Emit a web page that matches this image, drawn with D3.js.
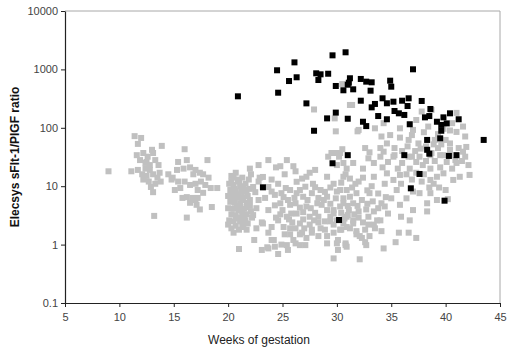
<!DOCTYPE html>
<html><head><meta charset="utf-8">
<script src="https://cdn.jsdelivr.net/npm/d3@7"></script>
<style>
html,body{margin:0;padding:0;background:#fff;}
svg{display:block;}
</style>
</head><body>
<svg id="chart" width="511" height="349"></svg>
<script>
// Tick values
const xTicks = [5, 10, 15, 20, 25, 30, 35, 40, 45];
const yTicks = [0.1, 1, 10, 100, 1000, 10000];

// Grey points (normal pregnancies): [weeks, ratio]
const greyEarly = [
 [11.4,72],[12.0,67],[11.7,53],[13.9,49],[13.0,42],[13.1,37],[11.6,34],[12.2,37],[12.6,32],[11.9,28],
 [12.5,26],[12.8,23],[13.3,28],[13.6,23],[12.4,20],[12.8,19],[11.7,19],[11.1,18],[12.1,16],[12.5,15],
 [13.1,16],[13.5,14],[13.7,17],[13.3,11],[12.9,9.7],[13.1,7.9],[13.8,12],[13.2,3.1],[9.0,18],[12.2,13],
 [12.7,12],[12.4,25],
 [16.0,43],[18.1,28],[15.4,26],[16.2,28],[16.5,21],[15.9,20],[17.0,19],[17.4,17],[17.7,16],[16.8,16],
 [15.3,19],[14.9,14],[14.8,13],[15.4,12],[16.0,12],[16.5,10.5],[17.0,11],[17.5,12],[17.9,10.5],[18.2,14],
 [18.4,9.3],[19.0,9.3],[15.1,8.6],[15.6,9.3],[15.8,6.3],[16.2,6.5],[16.7,6.3],[17.0,5.8],[17.2,6.3],[16.5,5.2],
 [17.1,4.8],[17.4,4.0],[18.5,4.4],[16.2,2.9],[14.5,16],[17.2,8.6],[17.7,7.7]
];
const greyMid = [
 [20.7,17],[20.5,14],[22.0,20],[20.9,13],[21.3,14],[20.1,11],[20.5,10.5],[21.1,10],[21.6,11],[20.2,8.6],
 [20.7,8.3],[21.2,8],[21.7,8.6],[20.0,6.8],[20.5,6.5],[20.9,6.3],[21.4,6.5],[21.8,6.8],[20.2,5.4],[20.6,5.2],
 [21.1,5.0],[21.7,5.2],[20.0,4.2],[20.5,4.1],[21.0,3.9],[21.5,4.1],[22.0,4.6],[20.3,3.3],[20.7,3.2],[21.3,3.2],
 [21.7,3.3],[20.1,2.6],[20.5,2.5],[21.1,2.5],[21.6,2.6],[22.2,2.9],[20.0,2.2],[20.7,2.1],[21.3,2.2],[21.8,2.3],
 [22.3,3.2],[22.6,4.2],[22.8,5.8],[22.5,7.9],[22.3,9.7],[22.8,12],[22.9,14],[22.1,16],[21.0,0.84],[21.0,1.8],
 [21.7,1.8],[20.5,1.6],[20.3,15],[21.5,8.2],[20.8,4.5],[20.4,7.4],[21.7,4.4],[22.0,5.8],[22.1,3.7],
 [20.3,12],[21.0,12],[21.4,9.5],[20.6,9],[20.9,7.2],[21.3,5.8],[20.4,5.9],[21.0,4.6],[21.3,3.7],[20.7,2.8],
 [21.0,2.9],[21.5,2.9],[20.3,1.9],[21.4,2.0],[22.0,9],[21.9,13],
 [24.8,22],[26.0,22],[26.2,18],[25.2,16],[24.0,13],[24.6,11],[24.0,8.1],[24.9,7.6],[25.7,8.6],[26.3,7.6],
 [24.8,5.1],[25.5,5.8],[26.2,5.1],[26.9,6.6],[27.2,14.5],[28.0,19],[27.8,11],[27.1,9.8],[28.5,8.6],[29.1,14.5],
 [29.7,11],[30.6,14.5],[30.3,8.6],[29.1,6.6],[28.2,5.1],[27.2,4.5],[26.3,3.4],[25.4,3.0],[27.5,3.0],[28.3,3.0],
 [29.1,3.9],[29.7,3.9],[30.6,5.1],[30.9,3.0],[26.6,2.3],[27.5,2.2],[28.5,1.9],[25.7,1.9],[25.2,1.5],[26.0,1.2],
 [27.2,1.3],[26.6,0.98],[29.1,1.4],[29.7,1.6],[30.3,1.8],[30.9,2.0],[30.0,1.05],[30.9,0.92],[29.7,0.58],[24.0,1.2],
 [24.3,0.92],[23.7,0.86],
 [24.3,4.7],[25.0,3.9],[25.7,4.8],[26.6,4.3],[27.3,5.8],[27.7,7.6],[28.3,6.3],[28.6,4.8],[26.3,11.9],[25.3,9.3],
 [26.8,13.5],[27.5,17],[25.9,2.4],[26.8,1.6],[27.7,1.8],[28.3,2.4],[25.1,2.0],[24.4,2.9],[23.7,3.9],[23.4,6.3],
 [24.3,7.1],[23.7,9.7],[23.2,14.4],[22.8,23],[23.7,28],[24.4,21],[25.4,28],[23.7,1.6],[23.1,2.4],[22.6,1.9],
 [22.4,1.2],[23.1,0.81],[25.5,0.81],[24.6,0.69],
 [23.2,2.3],[24.0,2.0],[24.2,1.2],[23.6,0.9],[24.9,1.0],[25.4,0.98],[26.2,1.05],[27.1,0.98],[25.7,1.5],[26.2,1.9],
 [26.6,1.5],[27.7,1.6],[28.3,1.4],[28.9,1.8],[29.1,1.05],[30.1,0.81],[30.8,0.98],[31.8,1.5],[32.1,0.56],[32.7,0.98],
 [32.3,1.3],[33.0,1.4],[32.6,1.8],[33.4,2.2],[33.7,2.6],[31.5,2.3],[30.6,2.3],[30.0,2.6],
 [24.6,2.6],[25.6,2.7],[26.9,2.7],[27.9,2.6],[28.9,2.5],[29.4,3.0],[28.0,3.5],[26.9,3.6],[25.8,3.4],[24.8,3.3],
 [25.1,6.5],[26.1,6.3],[27.6,4.2],[28.8,5.8],[29.4,5.0],[29.9,6.2],[28.9,8.0],[28.0,9.6],[26.6,8.6],[29.4,9.5],
 [27.0,1.9],[29.4,2.5]
];
const greyLate = [
 [30.3,37],[31.5,25],[32.4,20],[30.8,16],[32.4,14],[31.7,11],[30.9,8.6],[30.0,8.1],[30.6,6.2],[31.2,6.6],
 [31.8,7.6],[32.3,5.8],[31.5,5.1],[30.3,4.5],[31.1,3.9],[32.0,3.7],[29.7,3.4],[30.7,2.8],[31.5,2.6],[31.2,1.9],
 [30.4,1.8],[29.7,2.2],[31.8,1.7],[30.1,1.2],[30.8,1.05],[32.6,1.1],[32.1,1.4],[33.0,7.6],[32.9,2.2],[33.5,1.9],
 [34.1,1.7],[34.3,0.86],[35.4,1.1],[33.4,3.7],[34.0,2.6],[34.4,4.5],[34.7,3.4],[34.1,5.1],[35.0,6.2],[35.8,4.8],
 [35.5,8.6],[35.9,11],[36.4,6.2],[35.9,3.0],[36.7,2.6],[36.6,1.6],[35.7,1.6],[37.3,1.3],[37.0,3.9],[38.3,5.1],
 [38.3,3.7],[37.6,7.6],[38.6,7.6],[37.0,8.1],[34.4,11],[33.4,14.5],[34.6,16.6],[35.2,12.8],[35.8,15.6],[36.7,20],
 [36.0,25],[36.9,32],[35.3,34],[34.0,32],[34.3,39],[34.7,26],[37.3,26],[37.9,23],[38.6,20],[37.8,12],
 [38.6,12.8],[39.2,14.5],[38.9,11],[39.8,16.6],[40.6,20],[39.5,21],[40.1,26],[41.0,25],[42.1,23],[42.2,15.6],
 [41.3,14.5],[40.7,12.8],[40.2,6.0],[39.5,34],[38.6,34],[37.6,32],[41.6,39],
 [29.2,32],[30.0,37],[30.6,25],[30.0,23],[30.9,20],
 [30.5,560],[27.9,206],[31.2,246],[29.8,145],[29.9,87],[31.9,87],[29.5,37],[30.5,43],[30.2,32],
 [31.4,246],[32.0,92],[33.5,98],[34.3,120],[35.8,98],[34.9,75],[34.1,71],[34.6,54],[34.0,45],[35.3,45],
 [35.2,32],[37.0,92],[36.6,62],[37.3,136],[37.8,190],[38.7,202],[38.4,105],[37.5,54],[39.0,62],[40.0,62],
 [40.4,54],[41.0,85],[41.8,71],[41.9,47],[41.2,45],[40.4,42],[39.3,45],[39.8,34],[38.7,37],[41.8,32],
 [41.0,180],[36.6,32],
 [31.0,4.6],[31.9,4.6],[32.7,4.0],[32.9,3.0],[32.0,2.9],[31.0,3.2],[30.4,3.5],[31.6,3.3],[32.4,2.4],[32.8,5.0],
 [33.3,5.5],[33.8,4.2],[32.8,8.5],[31.4,9.5],[30.4,11.5],[31.2,13.5],[32.0,12],[33.2,10],[33.8,7.5],[34.5,6.5],
 [36.0,40],[36.5,48],[37.2,40],[37.7,44],[38.2,48],[38.9,52],[39.6,52],[40.4,34],[40.9,28],[41.5,27],
 [39.0,27],[38.2,27],[36.4,16],[37.3,17],[38.0,16],[38.5,9.5],[39.4,9.5],[40.0,8.6],[39.2,5.8],[36.9,13],
 [35.6,20],[34.2,21],[33.4,25],[32.9,30],[33.0,38],[32.6,45],[35.8,68],[36.9,75],[38.0,84],[39.3,78],
 [40.4,90],[41.6,105],[40.6,120],[39.8,96]
];

// Black points (pre-eclampsia): [weeks, ratio]
const blackPoints = [
 [20.9,346],[24.5,966],[24.6,399],[26.1,1320],[25.6,632],[26.3,733],[27.2,262],[27.9,89],[28.1,857],[28.5,824],
 [28.3,658],[29.2,843],[29.6,1741],[30.8,1963],[29.9,520],[29.9,182],[29.1,145],[31.0,143],[31.2,705],[31.1,592],
 [30.6,439],[31.5,456],[31.0,547],[32.2,686],[32.7,617],[32.2,291],[32.4,127],[32.7,107],[31.0,34],[37.0,1004],
 [33.2,601],[33.1,432],[34.9,641],[35.0,506],[33.2,224],[33.5,256],[34.2,320],[34.6,263],[35.2,280],[36.0,291],
 [36.6,320],[36.5,236],[37.8,288],[33.8,159],[34.6,140],[35.3,194],[35.7,177],[36.2,166],[36.7,115],[38.6,210],
 [38.1,151],[38.5,159],[39.2,127],[39.8,151],[39.6,112],[40.1,119],[40.4,177],[39.6,89],[41.2,140],[38.3,62],
 [39.5,66],[43.5,62],[38.3,42],[38.5,36],[36.2,34],[40.3,33],[41.0,34],[29.6,24.7],[37.6,16.2],[36.8,9.2],
 [39.9,5.65],[30.2,2.64],[23.2,9.57]
];

const greyPoints = greyEarly.concat(greyMid, greyLate);

const svg = d3.select("#chart");
const x = d3.scaleLinear().domain([5, 45]).range([65, 500]);
const y = d3.scaleLog().domain([0.1, 10000]).range([303, 11]);

// frame (top & right)
svg.append("path")
  .attr("d", `M${x(5)},${y(10000)}H${x(45)}V${y(0.1)}`)
  .attr("fill", "none").attr("stroke", "#a8a8a8").attr("stroke-width", 1);

const sq = 6;
svg.append("g").selectAll("rect").data(greyPoints).join("rect")
  .attr("x", d => x(d[0]) - sq/2).attr("y", d => y(d[1]) - sq/2)
  .attr("width", sq).attr("height", sq).attr("fill", "#c0c0c0");
svg.append("g").selectAll("rect").data(blackPoints).join("rect")
  .attr("x", d => x(d[0]) - sq/2).attr("y", d => y(d[1]) - sq/2)
  .attr("width", sq).attr("height", sq).attr("fill", "#000");

const fmt = d => String(d);
const yAxis = svg.append("g").attr("transform", `translate(${x(5)},0)`)
  .call(d3.axisLeft(y).tickValues(yTicks).tickFormat(fmt).tickSize(4).tickSizeOuter(0).tickPadding(3));
const xAxis = svg.append("g").attr("transform", `translate(0,${y(0.1)})`)
  .call(d3.axisBottom(x).tickValues(xTicks).tickFormat(fmt).tickSize(4).tickSizeOuter(0).tickPadding(6));
[yAxis, xAxis].forEach(g => {
  g.selectAll("path.domain").attr("stroke", "#222").attr("stroke-width", 1.2);
  g.selectAll(".tick line").attr("stroke", "#222");
  g.selectAll(".tick text").attr("fill", "#444").style("font-family", "'Liberation Sans', Arial, sans-serif").style("font-size", "11px");
});

svg.append("text")
  .attr("transform", "translate(19,157) rotate(-90)")
  .attr("text-anchor", "middle")
  .style("font-family", "'Liberation Sans', Arial, sans-serif")
  .style("font-size", "12px").style("font-weight", "bold").attr("fill", "#111")
  .text("Elecsys sFlt-1/PlGF ratio");

svg.append("text")
  .attr("x", 259).attr("y", 344)
  .attr("text-anchor", "middle")
  .style("font-family", "'Liberation Sans', Arial, sans-serif")
  .style("font-size", "12px").attr("fill", "#222")
  .text("Weeks of gestation");
</script>
</body></html>
